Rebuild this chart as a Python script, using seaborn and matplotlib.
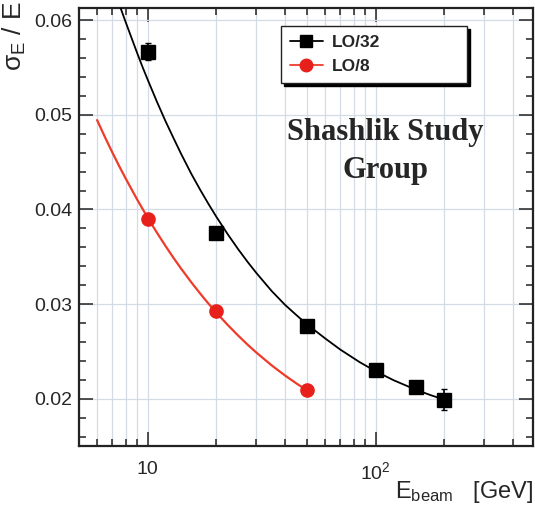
import matplotlib
matplotlib.use("Agg")
import matplotlib.pyplot as plt
from matplotlib.lines import Line2D
from matplotlib.ticker import FixedLocator, FixedFormatter, LogLocator, MultipleLocator, NullFormatter
import seaborn as sns

# measured points
energy_lo32 = [10, 20, 50, 100, 150, 200]
res_lo32 = [0.0567, 0.0375, 0.0277, 0.0230, 0.0212, 0.0199]
err_lo32 = [0.0009, 0.0004, 0.0004, 0.0004, 0.0004, 0.0011]

energy_lo8 = [10, 20, 50]
res_lo8 = [0.0390, 0.0293, 0.0209]
err_lo8 = [0.0004, 0.0004, 0.0004]

# fit curves
fit_e_lo32 = [7.6, 8, 8.5, 9, 9.5, 10, 11, 12, 13, 14, 15.5, 17, 18.5, 20, 22.5,
              25, 27.5, 30, 35, 40, 45, 50, 60, 70, 85, 100, 120, 150, 175, 200]
fit_r_lo32 = [0.06133, 0.05984, 0.05813, 0.05652, 0.05505, 0.05373, 0.05135,
              0.04929, 0.04752, 0.04591, 0.04382, 0.04208, 0.04057, 0.03924,
              0.03735, 0.03577, 0.03443, 0.03328, 0.03138, 0.02993, 0.02882,
              0.02786, 0.02638, 0.02519, 0.02387, 0.02290, 0.02195, 0.02095,
              0.02036, 0.01990]
fit_e_lo8 = [6, 6.5, 7, 7.5, 8, 9, 10, 11, 12, 13, 14, 15.5, 17, 18.5, 20, 22.5,
             25, 27.5, 30, 35, 40, 45, 50]
fit_r_lo8 = [0.04945, 0.04764, 0.04603, 0.04459, 0.04330, 0.04104, 0.03914,
             0.03752, 0.03611, 0.03487, 0.03377, 0.03234, 0.03111, 0.03004,
             0.02910, 0.02777, 0.02665, 0.02569, 0.02487, 0.02352, 0.02246,
             0.02160, 0.02088]

labels = ["LO/32", "LO/8"]
red = "#ef3b2a"

sns.set_theme(style="ticks")
plt.rcParams["font.family"] = ["Liberation Sans", "DejaVu Sans"]
plt.rcParams["mathtext.fontset"] = "custom"
plt.rcParams["mathtext.rm"] = "Liberation Sans"
plt.rcParams["mathtext.it"] = "Liberation Sans"

fig = plt.figure(figsize=(5.35, 5.12), dpi=100)
ax = fig.add_axes([0.1477, 0.1289, 0.8486, 0.8555])

sns.lineplot(x=fit_e_lo32, y=fit_r_lo32, ax=ax, color="black", lw=1.3, zorder=3)
sns.lineplot(x=fit_e_lo8, y=fit_r_lo8, ax=ax, color=red, lw=1.6, zorder=3)

ax.errorbar(energy_lo32, res_lo32, yerr=err_lo32, fmt="s", color="black",
            ms=9.5, elinewidth=1.2, capsize=2, zorder=4)
ax.errorbar(energy_lo8, res_lo8, yerr=err_lo8, fmt="o", color="#e8201c",
            ms=9.5, elinewidth=1.2, capsize=2, zorder=4)

ax.set_xscale("log")
ax.set_xlim(5, 490)
ax.set_ylim(0.015, 0.0613)

ax.xaxis.set_major_locator(FixedLocator([10, 100]))
ax.xaxis.set_major_formatter(FixedFormatter(["10", r"10$^{2}$"]))
ax.xaxis.set_minor_locator(LogLocator(base=10, subs=[2, 3, 4, 5, 6, 7, 8, 9]))
ax.xaxis.set_minor_formatter(NullFormatter())
ax.yaxis.set_major_locator(MultipleLocator(0.01))
ax.yaxis.set_minor_locator(MultipleLocator(0.002))
ax.yaxis.set_major_formatter(matplotlib.ticker.FormatStrFormatter("%.2f"))

ax.tick_params(which="both", direction="in", top=True, right=True,
               color="#222222", width=1.1)
ax.tick_params(which="major", length=10, labelsize=14)
ax.tick_params(which="minor", length=5)
ax.tick_params(axis="x", which="major", pad=11)
ax.tick_params(axis="y", which="major", pad=5)

ax.grid(which="major", axis="y", color="#d3dce6", lw=0.9)
ax.grid(which="both", axis="x", color="#d3dce6", lw=0.9)
for s in ax.spines.values():
    s.set_color("#222222")
    s.set_linewidth(1.6)

ax.set_ylabel(r"$\sigma_{\rm E}$ / E", fontsize=19, loc="top")
ax.yaxis.set_label_coords(-0.112, 1.015)
ax.set_xlabel(r"E$_{\rm beam}$   [GeV]", fontsize=17, loc="right", labelpad=-3)

handles = [
    Line2D([], [], color="black", marker="s", ms=9, lw=1.3),
    Line2D([], [], color=red, marker="o", ms=9, lw=1.3, mfc="#e8201c", mec="#e8201c"),
]
leg = ax.legend(handles, labels, loc="upper left", bbox_to_anchor=(0.445, 0.959, 0.41, 0.0),
                mode="expand", borderaxespad=0, fancybox=False, framealpha=1,
                edgecolor="#222222", prop={"weight": "bold", "size": 12.5},
                handlelength=1.9, handletextpad=0.5, labelspacing=0.55, borderpad=0.5,
                shadow={"color": "black", "alpha": 1})
leg.get_frame().set_linewidth(1.0)

ax.text(0.674, 0.672, "Shashlik Study\nGroup", transform=ax.transAxes,
        ha="center", va="center", fontsize=22, fontweight="bold",
        family=["Liberation Serif", "DejaVu Serif"], linespacing=1.4)

fig.savefig("out.png", dpi=100)
